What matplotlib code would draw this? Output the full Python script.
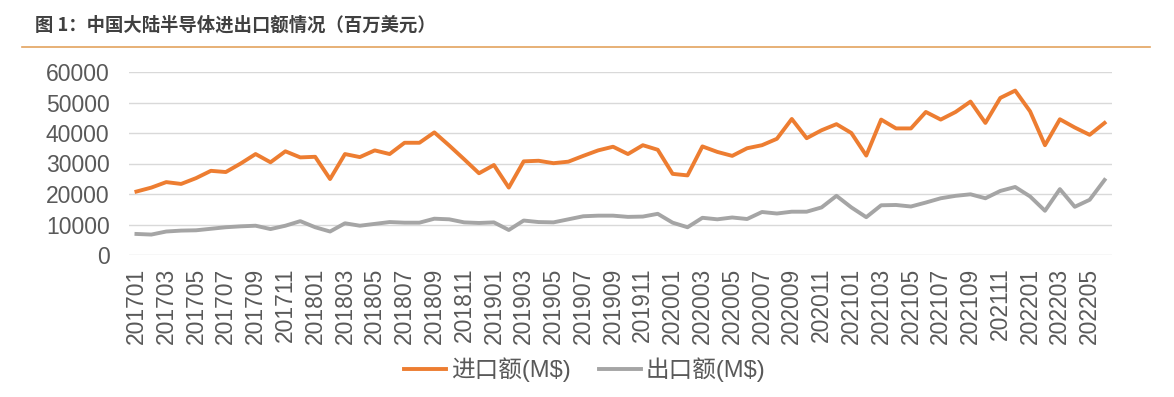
import numpy as np
import matplotlib
matplotlib.use("Agg")
import matplotlib.pyplot as plt
from matplotlib.lines import Line2D

plt.rcParams['font.family'] = ['Liberation Sans', 'Noto Sans CJK SC', 'DejaVu Sans']

# months 201701 .. 202206
months = [f"{y}{m:02d}" for y in range(2017, 2023) for m in range(1, 13)][:66]

# import / export, millions of USD
imports = [20800, 22100, 23900, 23300, 25200, 27600, 27200, 30000, 33100, 30400,
           34000, 32000, 32200, 24900, 33100, 32100, 34300, 33100, 36800, 36800,
           40200, 35900, 31400, 26800, 29500, 22100, 30700, 30900, 30100, 30600,
           32500, 34300, 35500, 33100, 36000, 34500, 26600, 26100, 35600, 33800,
           32500, 35000, 36000, 38100, 44600, 38300, 40900, 42900, 40000, 32600,
           44400, 41500, 41500, 46900, 44400, 46900, 50300, 43300, 51500, 53900,
           47100, 36000, 44500, 41800, 39400, 43300]
exports = [6900, 6700, 7700, 8000, 8100, 8600, 9100, 9400, 9600, 8500,
           9600, 11100, 9100, 7700, 10400, 9600, 10200, 10800, 10600, 10600,
           11900, 11700, 10700, 10500, 10700, 8200, 11300, 10800, 10700, 11700,
           12700, 12900, 12900, 12500, 12600, 13500, 10600, 9100, 12200, 11700,
           12300, 11800, 14100, 13600, 14200, 14200, 15600, 19400, 15600, 12400,
           16300, 16400, 15900, 17200, 18600, 19400, 19900, 18600, 21000, 22300,
           19200, 14500, 21600, 15800, 18100, 24600]

fig = plt.figure(figsize=(11.74, 3.97), dpi=100)
ax = fig.add_axes([129/1174, 1-255/397, (1112-129)/1174, (255-72)/397])

x = np.arange(len(months))
ax.plot(x, imports, color='#ED7D31', lw=2.8, label='进口额(M$)', solid_joinstyle='round')
ax.plot(x, exports, color='#A5A5A5', lw=2.8, label='出口额(M$)', solid_joinstyle='round')

ax.set_xlim(-0.5, len(months) - 0.5)
ax.set_ylim(0, 60000)
ax.set_yticks(range(0, 60001, 10000))
ax.set_xticks(x[::2])
ax.set_xticklabels(months[::2], rotation=90)
ax.tick_params(length=0, labelsize=16.5, colors='#595959')
ax.tick_params(axis='y', pad=14)
ax.tick_params(axis='x', pad=9)
ax.yaxis.grid(True, color='#D9D9D9', lw=1)
ax.set_axisbelow(True)
for s in ax.spines.values():
    s.set_visible(False)

fig.legend(loc='center', bbox_to_anchor=(0.498, 1-370/397), ncol=2, frameon=False,
           fontsize=17, handlelength=1.8, handletextpad=0.2, columnspacing=1.2,
           labelcolor='#595959')

fig.text(35/1174, 1-25/397, '图 1：中国大陆半导体进出口额情况（百万美元）',
         fontsize=13.2, fontweight='bold', color='#404040', va='center',
         family=['Noto Sans CJK SC', 'DejaVu Sans'])
fig.add_artist(Line2D([22/1174, 1150/1174], [1-47/397, 1-47/397], color='#E3A35F', lw=1.2))

fig.savefig('out.png', dpi=100)
